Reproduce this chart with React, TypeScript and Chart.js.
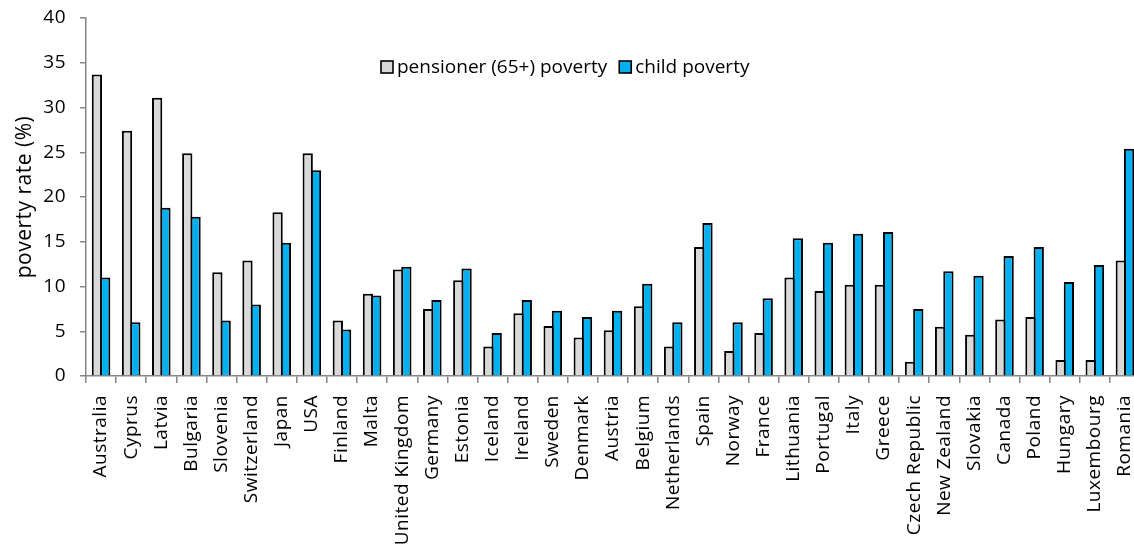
import React, { useEffect, useRef } from "react";
import { Chart, registerables } from "chart.js";

Chart.register(...registerables);

// Countries in display order
const countries = [
  "Australia", "Cyprus", "Latvia", "Bulgaria", "Slovenia", "Switzerland", "Japan", "USA",
  "Finland", "Malta", "United Kingdom", "Germany", "Estonia", "Iceland", "Ireland", "Sweden",
  "Denmark", "Austria", "Belgium", "Netherlands", "Spain", "Norway", "France", "Lithuania",
  "Portugal", "Italy", "Greece", "Czech Republic", "New Zealand", "Slovakia", "Canada",
  "Poland", "Hungary", "Luxembourg", "Romania",
];

// Poverty rates (%)
const pensionerPoverty = [
  33.7, 27.4, 31.1, 24.9, 11.6, 12.9, 18.3, 24.9,
  6.2, 9.2, 11.9, 7.5, 10.7, 3.3, 7.0, 5.6,
  4.3, 5.1, 7.8, 3.3, 14.4, 2.8, 4.8, 11.0,
  9.5, 10.2, 10.2, 1.6, 5.5, 4.6, 6.3,
  6.6, 1.8, 1.8, 12.9,
];
const childPoverty = [
  11.0, 6.0, 18.8, 17.8, 6.2, 8.0, 14.9, 23.0,
  5.2, 9.0, 12.2, 8.5, 12.0, 4.8, 8.5, 7.3,
  6.6, 7.3, 10.3, 6.0, 17.1, 6.0, 8.7, 15.4,
  14.9, 15.9, 16.1, 7.5, 11.7, 11.2, 13.4,
  14.4, 10.5, 12.4, 25.4,
];

const seriesLabels = ["pensioner (65+) poverty", "child poverty"];
const seriesColors = ["#D9D9D9", "#00B0F0"];

const yMin = 0;
const yMax = 40;
const yStep = 5;

const FONT = '"Open Sans", "DejaVu Sans", sans-serif';
const AXIS_GREY = "#868686";
const TEXT_SPACING = "0.5px";

// Slightly loosened letter spacing for axis text
const textSpacing = {
  id: "textSpacing",
  beforeUpdate(chart: any) {
    chart.ctx.letterSpacing = TEXT_SPACING;
  },
  beforeDraw(chart: any) {
    chart.ctx.letterSpacing = TEXT_SPACING;
  },
};

// Legend drawn inside the plot area, one row
const inlineLegend = {
  id: "inlineLegend",
  afterDraw(chart: any) {
    const ctx = chart.ctx as CanvasRenderingContext2D;
    ctx.save();
    (ctx as any).letterSpacing = "0px";
    ctx.font = `19px ${FONT}`;
    ctx.textBaseline = "middle";
    ctx.textAlign = "left";
    let x = 381;
    const y = 67;
    chart.data.datasets.forEach((ds: any) => {
      ctx.fillStyle = ds.backgroundColor;
      ctx.fillRect(x, y - 6, 12, 12);
      ctx.strokeStyle = "#000";
      ctx.lineWidth = 1.6;
      ctx.strokeRect(x, y - 6, 12, 12);
      ctx.fillStyle = "#000";
      ctx.fillText(ds.label, x + 16, y + 1);
      x += 16 + ctx.measureText(ds.label).width + 12;
    });
    ctx.restore();
  },
};

export default function App() {
  const canvasRef = useRef<HTMLCanvasElement | null>(null);

  useEffect(() => {
    const canvas = canvasRef.current;
    if (!canvas) return;
    const barStyle = {
      borderColor: "#000",
      borderWidth: 2,
      borderSkipped: "bottom" as const,
      categoryPercentage: 0.551,
      barPercentage: 1.241,
    };
    const chart = new Chart(canvas, {
      type: "bar",
      data: {
        labels: countries,
        datasets: [
          { label: seriesLabels[0], data: pensionerPoverty, backgroundColor: seriesColors[0], ...barStyle },
          { label: seriesLabels[1], data: childPoverty, backgroundColor: seriesColors[1], ...barStyle },
        ],
      },
      options: {
        responsive: false,
        animation: false,
        devicePixelRatio: 1,
        layout: { padding: { top: 18, right: 0, left: 0, bottom: 0 } },
        plugins: {
          legend: { display: false },
          tooltip: { enabled: false },
        },
        scales: {
          x: {
            offset: true,
            grid: {
              offset: true,
              drawOnChartArea: false,
              drawTicks: true,
              tickLength: 7,
              color: AXIS_GREY,
              lineWidth: 1.5,
            },
            border: { color: AXIS_GREY, width: 1.5 },
            ticks: {
              autoSkip: false,
              minRotation: 90,
              maxRotation: 90,
              padding: 12,
              color: "#000",
              font: { family: FONT, size: 19 },
            },
            afterFit: (scale: any) => {
              scale.height = 173;
              scale.paddingLeft = 0;
              scale.paddingRight = 0;
            },
          },
          y: {
            min: yMin,
            max: yMax,
            grid: {
              drawOnChartArea: false,
              drawTicks: true,
              tickLength: 6,
              color: AXIS_GREY,
              lineWidth: 1.5,
            },
            border: { color: AXIS_GREY, width: 1.5 },
            ticks: {
              stepSize: yStep,
              padding: 14,
              color: "#000",
              font: { family: FONT, size: 19 },
            },
            title: {
              display: true,
              text: "poverty rate (%)",
              color: "#000",
              font: { family: FONT, size: 21 },
              padding: { top: 12, bottom: 0 },
            },
            afterFit: (scale: any) => {
              scale.width = 86;
              scale.paddingTop = 0;
              scale.paddingBottom = 0;
            },
          },
        },
      },
      plugins: [textSpacing, inlineLegend],
    });
    return () => chart.destroy();
  }, []);

  return (
    <div
      style={{
        position: "fixed",
        left: 0,
        top: 0,
        width: 1134,
        height: 549,
        overflow: "hidden",
        background: "#fff",
      }}
    >
      <canvas ref={canvasRef} width={1140} height={549} style={{ display: "block" }} />
    </div>
  );
}
